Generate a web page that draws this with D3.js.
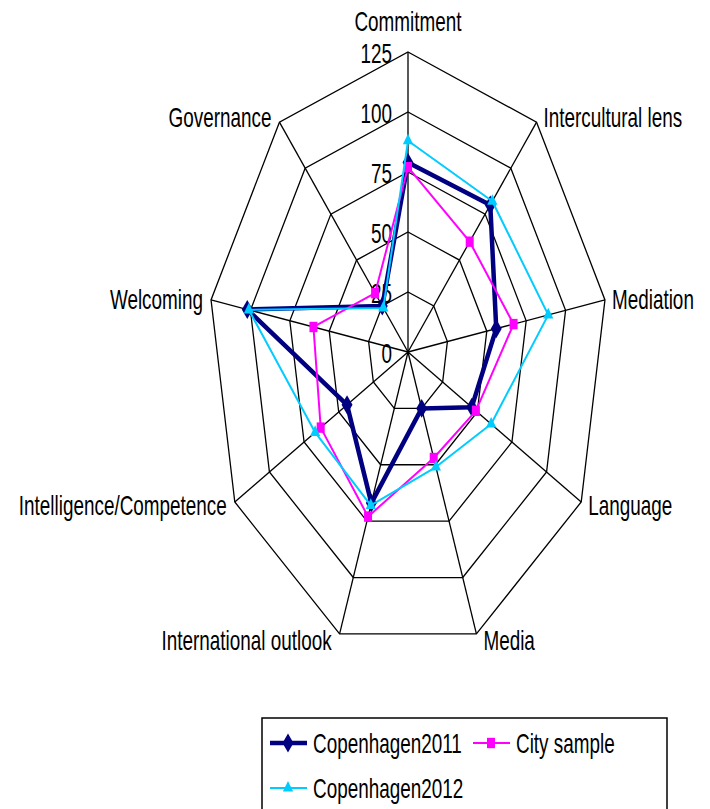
<!DOCTYPE html>
<html>
<head>
<meta charset="utf-8">
<script src="https://cdn.jsdelivr.net/npm/d3@7"></script>
<style>
  body { margin: 0; background: #fff; }
  svg { display: block; }
  text { font-family: "Liberation Sans", Arial, sans-serif; fill: #000; }
</style>
</head>
<body>
<svg width="710" height="809"></svg>
<script>
// axes (clockwise from top)
const axes = ['Commitment', 'Intercultural lens', 'Mediation', 'Language', 'Media',
  'International outlook', 'Intelligence/Competence', 'Welcoming', 'Governance'];
const ticks = [0, 25, 50, 75, 100, 125];

// series values
const copenhagen2011 = [79, 80, 56, 46, 25, 67, 44, 102, 25];
const citySample     = [77, 60, 67, 49, 47, 73, 63, 60, 32];
const copenhagen2012 = [88, 82, 89, 60, 51, 68, 67, 101, 24];

const seriesNames = ['Copenhagen2011', 'City sample', 'Copenhagen2012'];

const svg = d3.select('svg');
const cx = 408, cy = 352;
const fontSize = 27, squeeze = 0.7; // text in the picture is narrowed horizontally

// plot is stretched: horizontal radius 200, vertical radius 300
const rx = d3.scaleLinear().domain([0, 125]).range([0, 200]);
const ry = d3.scaleLinear().domain([0, 125]).range([0, 300]);
const angle = d3.scaleLinear().domain([0, axes.length]).range([0, 2 * Math.PI]);

function pt(i, v) {
  const a = angle(i);
  return [cx + rx(v) * Math.sin(a), cy - ry(v) * Math.cos(a)];
}

function label(g, x, y, txt, anchor) {
  g.append('g')
    .attr('transform', `translate(${x},${y}) scale(${squeeze},1)`)
    .append('text')
    .attr('font-size', fontSize)
    .attr('text-anchor', anchor)
    .text(txt);
}

const line = d3.line().curve(d3.curveLinearClosed);

// grid rings
const grid = svg.append('g');
grid.selectAll('path.ring')
  .data(ticks.slice(1))
  .enter().append('path')
  .attr('class', 'ring')
  .attr('d', v => line(axes.map((a, i) => pt(i, v))))
  .attr('fill', 'none')
  .attr('stroke', '#000')
  .attr('stroke-width', 1.3);

// spokes
grid.selectAll('line.spoke')
  .data(axes)
  .enter().append('line')
  .attr('x1', cx).attr('y1', cy)
  .attr('x2', (d, i) => pt(i, 125)[0])
  .attr('y2', (d, i) => pt(i, 125)[1])
  .attr('stroke', '#000')
  .attr('stroke-width', 1.3);

// tick labels along the top axis
ticks.forEach(t => {
  label(svg, cx - 16, cy - ry(t) + 11, t, 'end');
});

// axis labels
axes.forEach((name, i) => {
  const [x, y] = pt(i, 125);
  const s = Math.sin(angle(i)), c = Math.cos(angle(i));
  if (Math.abs(s) < 1e-6) {
    label(svg, x, y - 21, name, 'middle');
  } else {
    label(svg, x + (s > 0 ? 7 : -8), y + 10 - 6.5 * c, name, s > 0 ? 'start' : 'end');
  }
});

// series
const styles = [
  { data: copenhagen2011, color: '#000080', width: 4.5, symbol: d3.symbolDiamond, size: 104, sx: 1, sy: 1 },
  { data: citySample, color: '#FF00FF', width: 2, symbol: d3.symbolSquare, size: 64, sx: 1, sy: 1.3 },
  { data: copenhagen2012, color: '#00CCFF', width: 2, symbol: d3.symbolTriangle, size: 45, sx: 1, sy: 1.2 }
];

styles.forEach(st => {
  const pts = st.data.map((v, i) => pt(i, v));
  svg.append('path')
    .attr('d', line(pts))
    .attr('fill', 'none')
    .attr('stroke', st.color)
    .attr('stroke-width', st.width)
    .attr('stroke-linejoin', 'round');
  svg.append('g').selectAll('path')
    .data(pts)
    .enter().append('path')
    .attr('d', d3.symbol().type(st.symbol).size(st.size))
    .attr('transform', d => `translate(${d[0]},${d[1]}) scale(${st.sx},${st.sy})`)
    .attr('fill', st.color);
});

// legend
const legend = svg.append('g');
legend.append('rect')
  .attr('x', 262).attr('y', 718)
  .attr('width', 405).attr('height', 110)
  .attr('fill', '#fff')
  .attr('stroke', '#000')
  .attr('stroke-width', 1.5);

const legendPos = [[270, 743], [473, 743], [270, 788]];
styles.forEach((st, k) => {
  const [lx, ly] = legendPos[k];
  legend.append('line')
    .attr('x1', lx).attr('x2', lx + 37)
    .attr('y1', ly).attr('y2', ly)
    .attr('stroke', st.color)
    .attr('stroke-width', st.width);
  legend.append('path')
    .attr('d', d3.symbol().type(st.symbol).size(st.size))
    .attr('transform', `translate(${lx + 18},${ly}) scale(${st.sx},${st.sy})`)
    .attr('fill', st.color);
  label(legend, lx + 43, ly + 10, seriesNames[k], 'start');
});
</script>
</body>
</html>
